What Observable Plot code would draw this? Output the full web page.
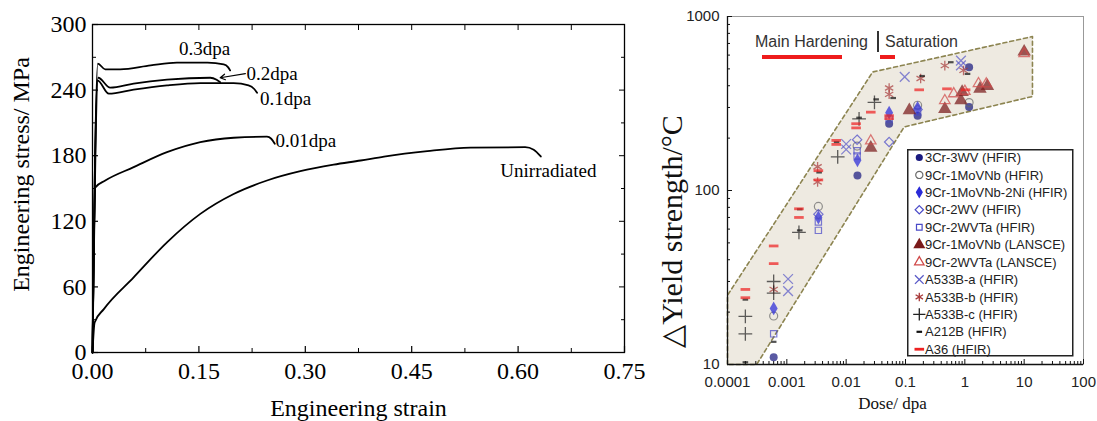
<!DOCTYPE html>
<html><head><meta charset="utf-8">
<script src="https://cdn.jsdelivr.net/npm/d3@7"></script>
<script src="https://cdn.jsdelivr.net/npm/@observablehq/plot@0.6"></script>
<style>
html,body{margin:0;padding:0;background:#fff}
body{position:relative;width:1097px;height:421px;overflow:hidden;font-family:"Liberation Sans",Arial,sans-serif}
.abs{position:absolute}
#left{left:0;top:0}
#right{left:640px;top:0}
.ann{position:absolute;font-size:16px;color:#333;line-height:18px;white-space:nowrap}
.red{position:absolute;background:#ee1c1c;height:4px}
</style></head><body>
<div id="left" class="abs"></div>
<div id="right" class="abs"></div>
<div class="ann" style="left:755px;top:33px">Main Hardening</div>
<div class="abs" style="left:877px;top:31px;width:2px;height:21px;background:#333"></div>
<div class="ann" style="left:885px;top:33px">Saturation</div>
<div class="red" style="left:762px;top:55px;width:80px"></div>
<div class="red" style="left:880px;top:55px;width:15px"></div>
<script>
// ---------- Left panel data: engineering stress-strain curves ----------
const strainTicks = [0, 0.15, 0.30, 0.45, 0.60, 0.75];
const strainMinor = [0.075, 0.225, 0.375, 0.525, 0.675];
const stressTicks = [0, 60, 120, 180, 240, 300];
const stressMinor = [30, 90, 150, 210, 270];

const curveNames = ["Unirradiated", "0.01dpa", "0.1dpa", "0.2dpa", "0.3dpa"];
const unirradiated = [[0,0],[0.003,27.5],[0.016,39.7],[0.058,68.7],[0.105,100.8],[0.152,126.8],[0.199,145],[0.246,157.3],[0.293,165.8],[0.340,171.8],[0.378,175.6],[0.411,179.2],[0.472,184.2],[0.533,187.4],[0.61,187.8],[0.622,185.5],[0.632,179.3]];
const dpa001 = [[0,0],[0.004,151],[0.018,157.3],[0.058,169.5],[0.105,183.2],[0.152,192.4],[0.199,196.4],[0.246,197.4],[0.252,195.5],[0.257,190.9]];
const dpa01 = [[0,0],[0.007,248.9],[0.023,236.7],[0.058,240.4],[0.105,244.3],[0.152,246.4],[0.199,246.4],[0.22,244.3],[0.228,241],[0.232,237.5]];
const dpa02 = [[0,0],[0.008,251.3],[0.025,242.2],[0.058,245.9],[0.105,249.5],[0.166,251.3],[0.175,249.5],[0.18,247.3]];
const dpa03 = [[0,0],[0.0075,264.2],[0.018,259],[0.039,259],[0.082,262.6],[0.119,265.1],[0.162,265.1],[0.185,263.5],[0.191,261],[0.194,258]];
const curveData = [unirradiated, dpa001, dpa01, dpa02, dpa03];

const labelText = ["0.3dpa", "0.2dpa", "0.1dpa", "0.01dpa", "Unirradiated"];
const labelStrain = [0.158, 0.217, 0.236, 0.258, 0.575];
const labelStress = [277.3, 255, 232.4, 193.5, 166.4];
const labelAnchor = ["middle", "start", "start", "start", "start"];
const arrow02 = {x1: 0.2155, y1: 255, x2: 0.180, y2: 251.3};

// ---------- Right panel data: yield strength change vs dose ----------
const doseTicks = [0.0001, 0.001, 0.01, 0.1, 1, 10, 100];
const ysTicks = [10, 100, 1000];
const bandDose = [0.0001, 0.0001, 0.028, 13.8, 13.8, 0.095, 0.00031];
const bandYS   = [10, 25, 480, 767, 347, 232, 10];

const seriesNames = ["3Cr-3WV (HFIR)", "9Cr-1MoVNb (HFIR)", "9Cr-1MoVNb-2Ni (HFIR)", "9Cr-2WV (HFIR)", "9Cr-2WVTa (HFIR)", "9Cr-1MoVNb (LANSCE)", "9Cr-2WVTa (LANSCE)", "A533B-a (HFIR)", "A533B-b (HFIR)", "A533B-c (HFIR)", "A212B (HFIR)", "A36 (HFIR)"];
const s3Cr3WV     = [[0.0006,11],[0.0155,122],[0.053,242],[0.16,269],[1.18,302],[1.18,511]];
const s9Cr1MoVNb  = [[0.0006,19],[0.0034,81],[0.0153,180],[0.16,309],[1.18,320]];
const s9Cr1MoNi   = [[0.0006,21],[0.0034,70],[0.0155,149],[0.053,280],[0.16,298]];
const s9Cr2WV     = [[0.0034,73],[0.0153,196],[0.053,190],[0.16,292]];
const s9Cr2WVTa   = [[0.0006,15],[0.0034,59],[0.0034,66],[0.0153,169],[0.0153,158],[0.053,258],[0.16,283]];
const sLan1MoVNb  = [[0.026,176],[0.116,289],[0.46,294],[0.86,330],[0.9,368],[1.8,384],[2.4,398],[10,628]];
const sLan2WVTa   = [[0.026,193],[0.46,329],[0.65,360],[1.0,372],[1.7,412],[2.3,410],[10,612]];
const sA533Ba     = [[0.00105,31],[0.00105,26.4],[0.01,185],[0.01,172],[0.097,450],[0.86,558],[0.86,524]];
const sA533Bb     = [[0.0006,27],[0.0033,137],[0.0033,112],[0.053,388],[0.053,357],[0.18,440],[0.46,522],[0.95,490]];
const sA533Bc     = [[0.0002,18.9],[0.0002,15],[0.0006,30],[0.0006,25.7],[0.0016,57.5],[0.0072,156],[0.0165,258],[0.03,321]];
const sA212B      = [[0.0002,23.6],[0.0002,10.3],[0.0006,13.5],[0.00165,78],[0.00165,59],[0.0035,127],[0.0069,190],[0.0165,262],[0.032,334],[0.062,340],[0.19,455],[0.58,546],[1.11,468]];
const sA36        = [[0.0002,27],[0.0002,24.2],[0.0006,48],[0.0006,38],[0.0016,70],[0.0016,78.5],[0.0034,130],[0.0034,115],[0.0068,194],[0.0068,184],[0.0147,242],[0.0147,229],[0.026,282],[0.053,269],[0.053,259],[0.17,379],[0.5,384],[1.03,379]];
const seriesData = [s3Cr3WV, s9Cr1MoVNb, s9Cr1MoNi, s9Cr2WV, s9Cr2WVTa, sLan1MoVNb, sLan2WVTa, sA533Ba, sA533Bb, sA533Bc, sA212B, sA36];

// ---------- styles ----------
const dash = (hw) => ({draw(ctx) { ctx.moveTo(-hw, 0); ctx.lineTo(hw, 0); }});
const seriesSymbols = ["circle", "circle", "diamond", "diamond2", "square2", "triangle", "triangle2", "times", "asterisk", "plus", dash(2.8), dash(4.8)];
const seriesColors = ["#1a1a80", "#6a6a6a", "#2a2ad8", "#4a4ac8", "#4a4ac8", "#7a1a1a", "#d04848", "#5a5ac8", "#a83a3a", "#222222", "#111111", "#ee2222"];
const seriesFilled = [true, false, true, false, false, true, false, false, false, false, false, false];
const seriesR = [4, 4, 4.2, 4.2, 4, 5, 5, 4.5, 4.5, 4.5, 0, 0];
const seriesSW = [1, 1.2, 1, 1.2, 1.2, 1, 1.3, 1.3, 1.3, 1.3, 2.2, 2.8];

const serif = '"Liberation Serif", "Times New Roman", serif';

// ---------- Left plot ----------
const curveRows = curveData.flatMap((pts, i) => pts.map(([s, t]) => ({curve: curveNames[i], strain: s, stress: t})));
const labelRows = labelText.map((t, i) => ({t, x: labelStrain[i], y: labelStress[i], a: labelAnchor[i]}));

const leftPlot = Plot.plot({
  width: 650, height: 421,
  marginLeft: 92, marginRight: 26, marginTop: 24, marginBottom: 69,
  style: {fontFamily: serif, background: "transparent", color: "#000", overflow: "visible"},
  x: {domain: [0, 0.75]},
  y: {domain: [0, 300]},
  marks: [
    Plot.frame({stroke: "#000", strokeWidth: 1.3}),
    Plot.axisX(strainTicks, {anchor: "bottom", tickSize: -6, tickPadding: 15, fontSize: 24, tickFormat: d => d.toFixed(2), label: null, strokeWidth: 1.2}),
    Plot.axisX(strainMinor, {anchor: "bottom", tickSize: -4, fill: "none", label: null}),
    Plot.axisX(strainTicks.concat(strainMinor), {anchor: "top", tickSize: -5, fill: "none", label: null}),
    Plot.axisY(stressTicks, {anchor: "left", tickSize: -6, tickPadding: 12, fontSize: 24, tickFormat: d => String(d), label: null, strokeWidth: 1.2}),
    Plot.axisY(stressMinor, {anchor: "left", tickSize: -4, fill: "none", label: null}),
    Plot.axisY(stressTicks, {anchor: "right", tickSize: -6, fill: "none", label: null}),
    Plot.axisY(stressMinor, {anchor: "right", tickSize: -4, fill: "none", label: null}),
    Plot.line(curveRows, {x: "strain", y: "stress", z: "curve", stroke: "#000", strokeWidth: 1.8, curve: "monotone-x"}),
    Plot.text(labelRows.filter(d => d.a === "start"), {x: "x", y: "y", text: "t", textAnchor: "start", fontSize: 19}),
    Plot.text(labelRows.filter(d => d.a === "middle"), {x: "x", y: "y", text: "t", textAnchor: "middle", fontSize: 19}),
    Plot.arrow([arrow02], {x1: "x1", y1: "y1", x2: "x2", y2: "y2", headLength: 7, strokeWidth: 1.2, stroke: "#000"}),
    Plot.text(["Engineering strain"], {frameAnchor: "bottom", textAnchor: "middle", lineAnchor: "middle", dy: 56, fontSize: 24}),
    Plot.text(["Engineering stress/ MPa"], {frameAnchor: "left", textAnchor: "middle", lineAnchor: "middle", rotate: -90, dx: -71, dy: -14, fontSize: 24})
  ]
});
document.getElementById("left").append(leftPlot);

// ---------- Right plot ----------
const bandRows = bandDose.map((d, i) => ({dose: d, ys: bandYS[i]}));
const doseMinor = [];
for (let e = -4; e < 2; e++) for (let m = 2; m <= 9; m++) doseMinor.push(m * Math.pow(10, e));
const ysMinor = [];
for (let e = 1; e < 3; e++) for (let m = 2; m <= 9; m++) ysMinor.push(m * Math.pow(10, e));

const dotMarks = seriesData.map((pts, i) => {
  const rows = pts.map(([d, y]) => ({dose: d, ys: y, series: seriesNames[i]}));
  const filled = seriesFilled[i];
  return Plot.dot(rows, {
    x: "dose", y: "ys",
    symbol: seriesSymbols[i],
    r: seriesR[i] || 4,
    fill: filled ? seriesColors[i] : "none",
    stroke: filled ? "none" : seriesColors[i],
    strokeWidth: seriesSW[i],
    opacity: 0.72
  });
});

const rightPlot = Plot.plot({
  width: 457, height: 421,
  marginLeft: 87, marginRight: 14, marginTop: 16, marginBottom: 57,
  style: {fontFamily: '"Liberation Sans", Arial, sans-serif', background: "transparent", color: "#222", overflow: "visible"},
  x: {type: "log", domain: [0.0001, 100]},
  y: {type: "log", domain: [10, 1000]},
  marks: [
    Plot.frame({stroke: "#999", strokeWidth: 1}),
    Plot.line(bandRows, {x: "dose", y: "ys", curve: "linear-closed", fill: "#eeeae1", stroke: "#8c8450", strokeWidth: 1.6, strokeDasharray: "4,3"}),
    Plot.ruleX([0.0001], {stroke: "#111", strokeWidth: 1.3}),
    Plot.ruleY([10], {stroke: "#111", strokeWidth: 1.3}),
    Plot.axisX(doseTicks, {anchor: "bottom", tickSize: -5, tickPadding: 17, fontSize: 15, tickFormat: d => String(d), label: null, stroke: "#111"}),
    Plot.axisX(doseMinor, {anchor: "bottom", tickSize: -3, fill: "none", label: null, stroke: "#111"}),
    Plot.axisY(ysTicks, {anchor: "left", tickSize: -5, tickPadding: 13, fontSize: 15, tickFormat: d => String(d), label: null, stroke: "#111"}),
    Plot.axisY(ysMinor, {anchor: "left", tickSize: -3, fill: "none", label: null, stroke: "#111"}),
    ...dotMarks,
    Plot.text(["Dose/ dpa"], {frameAnchor: "bottom", textAnchor: "middle", lineAnchor: "middle", dy: 39, dx: -13, fontSize: 17, fontFamily: serif, fill: "#111"}),
    Plot.text(["\u25B3Yield strength/\u00B0C"], {frameAnchor: "left", textAnchor: "middle", lineAnchor: "middle", rotate: -90, dx: -55, dy: 41, fontSize: 30, fontFamily: serif, fill: "#111"})
  ]
});
document.getElementById("right").append(rightPlot);

// ---------- Legend ----------
const symType = {circle: d3.symbolCircle, diamond: d3.symbolDiamond, diamond2: d3.symbolDiamond2, square2: d3.symbolSquare2, triangle: d3.symbolTriangle, triangle2: d3.symbolTriangle2, times: d3.symbolTimes, asterisk: d3.symbolAsterisk, plus: d3.symbolPlus};
const leg = d3.select("body").append("svg")
  .attr("width", 167).attr("height", 208)
  .style("position", "absolute").style("left", "907px").style("top", "149px");
leg.append("rect").attr("x", 0.75).attr("y", 0.75).attr("width", 165).attr("height", 206)
  .attr("fill", "#fff").attr("stroke", "#222").attr("stroke-width", 1.5);
seriesNames.forEach((name, i) => {
  const cy = 8.5 + i * 17.43;
  const sym = seriesSymbols[i];
  const type = typeof sym === "string" ? symType[sym] : sym;
  const r = seriesR[i] || 4;
  const g = leg.append("g").attr("transform", `translate(12.3,${cy})`);
  g.append("path").attr("d", d3.symbol(type, Math.PI * r * r * 0.8)())
    .attr("fill", seriesFilled[i] ? seriesColors[i] : "none")
    .attr("stroke", seriesFilled[i] ? "none" : seriesColors[i])
    .attr("stroke-width", seriesSW[i]);
  leg.append("text").attr("x", 18).attr("y", cy).attr("dy", "0.36em")
    .attr("font-size", 13).attr("fill", "#222")
    .attr("font-family", '"Liberation Sans", Arial, sans-serif')
    .text(name);
});
</script></body></html>
